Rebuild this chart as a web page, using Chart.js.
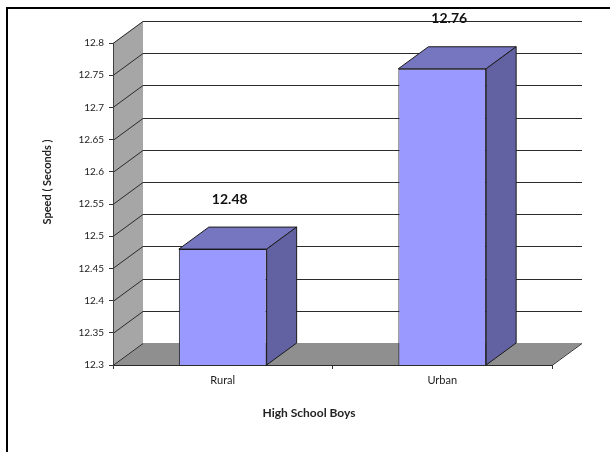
<!DOCTYPE html>
<html>
<head>
<meta charset="utf-8">
<script src="https://cdn.jsdelivr.net/npm/chart.js@4"></script>
<style>
  html, body { margin: 0; padding: 0; background: #fff; }
  #wrap { width: 610px; height: 452px; }
</style>
</head>
<body>
<div id="wrap"><canvas id="speedChart" width="610" height="452"></canvas></div>
<script>
// data
const categories = ['Rural', 'Urban'];
const speeds = [12.48, 12.76];
const yTickValues = [12.3, 12.35, 12.4, 12.45, 12.5, 12.55, 12.6, 12.65, 12.7, 12.75, 12.8];
const yTitle = 'Speed ( Seconds )';
const xTitle = 'High School Boys';

// fake 3D depth of the walls and bars
const DX = 30;
const DY = 22;
const FONT = 'Lato, "Open Sans", sans-serif';

// walls, floor and grid drawn before the scales
const wallsPlugin = {
    id: 'walls',
    beforeDraw(chart) {
        const ctx = chart.ctx;
        const x = chart.scales.x;
        const y = chart.scales.y;
        const L = x.left, R = x.right;
        const top = y.getPixelForValue(yTickValues[yTickValues.length - 1]);
        const bot = y.getPixelForValue(yTickValues[0]);

        ctx.save();
        // outer frame (left + top only)
        ctx.fillStyle = '#000';
        ctx.fillRect(6, 7, 2, 445);
        ctx.fillRect(6, 7, 604, 2);

        // floor
        ctx.fillStyle = '#8f8f8f';
        ctx.beginPath();
        ctx.moveTo(L, bot);
        ctx.lineTo(L + DX, bot - DY);
        ctx.lineTo(R + DX, bot - DY);
        ctx.lineTo(R, bot);
        ctx.closePath();
        ctx.fill();

        // left side wall
        ctx.fillStyle = '#a6a6a6';
        ctx.beginPath();
        ctx.moveTo(L, bot);
        ctx.lineTo(L, top);
        ctx.lineTo(L + DX, top - DY);
        ctx.lineTo(L + DX, bot - DY);
        ctx.closePath();
        ctx.fill();

        // grid lines: diagonal on side wall + horizontal on back wall
        ctx.strokeStyle = '#2b2b2b';
        ctx.lineWidth = 1;
        yTickValues.forEach((v, i) => {
            const py = Math.round(y.getPixelForValue(v)) + 0.5;
            ctx.beginPath();
            ctx.moveTo(L, py);
            ctx.lineTo(L + DX, py - DY);
            if (i > 0) ctx.lineTo(R + DX, py - DY);
            ctx.stroke();
        });

        // right edge of floor
        ctx.beginPath();
        ctx.moveTo(R, bot + 0.5);
        ctx.lineTo(R + DX, bot - DY + 0.5);
        ctx.stroke();

        // axis titles
        ctx.fillStyle = '#222';
        ctx.font = 'bold 12px ' + FONT;
        ctx.textAlign = 'center';
        ctx.textBaseline = 'middle';
        ctx.fillText(xTitle, 309, 413);

        ctx.translate(47, 182);
        ctx.rotate(-Math.PI / 2);
        ctx.font = 'bold 11px ' + FONT;
        ctx.fillText(yTitle, 0, 0);
        ctx.restore();
    }
};

// top and side faces of the bars, plus value labels
const barFacesPlugin = {
    id: 'barFaces',
    afterDatasetsDraw(chart) {
        const ctx = chart.ctx;
        const meta = chart.getDatasetMeta(0);
        const base = chart.scales.y.getPixelForValue(yTickValues[0]);
        ctx.save();
        ctx.strokeStyle = '#1a1a1a';
        ctx.lineWidth = 1;
        meta.data.forEach((bar, i) => {
            const l = bar.x - bar.width / 2;
            const r = bar.x + bar.width / 2;
            const t = bar.y;

            // top face
            ctx.fillStyle = '#7575c0';
            ctx.beginPath();
            ctx.moveTo(l, t);
            ctx.lineTo(l + DX, t - DY);
            ctx.lineTo(r + DX, t - DY);
            ctx.lineTo(r, t);
            ctx.closePath();
            ctx.fill();
            ctx.stroke();

            // side face
            ctx.fillStyle = '#6262a2';
            ctx.beginPath();
            ctx.moveTo(r, t);
            ctx.lineTo(r + DX, t - DY);
            ctx.lineTo(r + DX, base - DY);
            ctx.lineTo(r, base);
            ctx.closePath();
            ctx.fill();
            ctx.stroke();

            // value label
            ctx.fillStyle = '#111';
            ctx.font = 'bold 14px ' + FONT;
            ctx.textAlign = 'center';
            ctx.textBaseline = 'middle';
            ctx.fillText(speeds[i].toFixed(2), bar.x + 7, t - DY - 28);
        });
        ctx.restore();
    }
};

const ctx = document.getElementById('speedChart').getContext('2d');

const speedChart = new Chart(ctx, {
    type: 'bar',
    data: {
        labels: categories,
        datasets: [{
            data: speeds,
            backgroundColor: '#9999ff',
            borderColor: '#1a1a1a',
            borderWidth: 1,
            borderSkipped: false,
            barPercentage: 0.4,
            categoryPercentage: 1.0
        }]
    },
    options: {
        responsive: false,
        animation: false,
        layout: {
            padding: { left: 0, top: 43, right: 58, bottom: 0 }
        },
        plugins: {
            legend: { display: false },
            tooltip: { enabled: false }
        },
        scales: {
            x: {
                afterFit: function(scale) { scale.height = 87; },
                grid: {
                    display: true,
                    drawOnChartArea: false,
                    drawTicks: true,
                    tickLength: 4,
                    color: '#333'
                },
                border: { display: true, color: '#2b2b2b' },
                ticks: {
                    padding: 5,
                    color: '#222',
                    font: { family: FONT, size: 11 }
                }
            },
            y: {
                min: yTickValues[0],
                max: yTickValues[yTickValues.length - 1],
                afterFit: function(scale) { scale.width = 113; },
                afterBuildTicks: function(scale) {
                    scale.ticks = yTickValues.map(v => ({ value: v }));
                },
                grid: {
                    display: true,
                    drawOnChartArea: false,
                    drawTicks: true,
                    tickLength: 4,
                    color: '#333'
                },
                border: { display: true, color: '#404040' },
                ticks: {
                    padding: 5,
                    color: '#222',
                    font: { family: FONT, size: 10 },
                    callback: function(value) { return String(value); }
                }
            }
        }
    },
    plugins: [wallsPlugin, barFacesPlugin]
});
</script>
</body>
</html>
